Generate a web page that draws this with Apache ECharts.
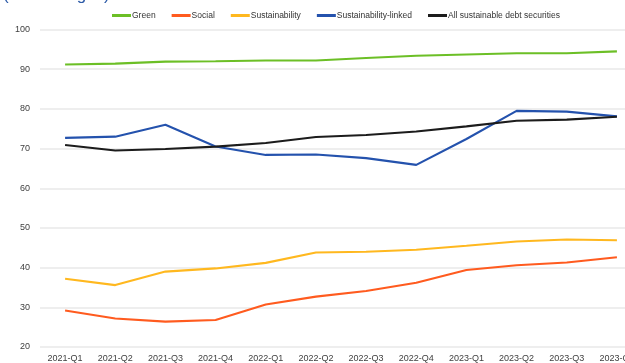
<!DOCTYPE html>
<html>
<head>
<meta charset="utf-8">
<script src="https://cdn.jsdelivr.net/npm/echarts@6/dist/echarts.min.js"></script>
<style>
  html, body { margin: 0; padding: 0; background: #fff; }
  #chart { width: 625px; height: 363px; }
</style>
</head>
<body>
<div id="chart"></div>
<script>
// Quarterly share of sustainable debt securities (percentages)
const quarters = ['2021-Q1','2021-Q2','2021-Q3','2021-Q4','2022-Q1','2022-Q2','2022-Q3','2022-Q4','2023-Q1','2023-Q2','2023-Q3','2023-Q4'];
const green = [91.2, 91.4, 91.9, 92.0, 92.2, 92.2, 92.8, 93.4, 93.7, 94.0, 94.0, 94.5];
const social = [29.2, 27.2, 26.4, 26.8, 30.7, 32.7, 34.1, 36.2, 39.4, 40.6, 41.3, 42.6];
const sustainability = [37.2, 35.6, 39.0, 39.8, 41.2, 43.8, 44.0, 44.5, 45.5, 46.6, 47.1, 46.9];
const sustainabilityLinked = [72.7, 73.0, 76.0, 70.5, 68.4, 68.5, 67.6, 65.9, 72.4, 79.5, 79.3, 78.1];
const allSustainable = [70.9, 69.5, 69.9, 70.5, 71.4, 72.9, 73.4, 74.3, 75.6, 77.0, 77.3, 78.0];
const yTicks = { min: 20, max: 100, interval: 10 };

const colors = {
  green: '#6cbf26',
  social: '#ff5b1f',
  sustainability: '#ffb81f',
  linked: '#2452ad',
  all: '#1c1c1c'
};

function line(name, data, color) {
  return {
    name: name,
    type: 'line',
    data: data,
    symbol: 'none',
    lineStyle: { color: color, width: 2.1 },
    itemStyle: { color: color },
    emphasis: { disabled: true }
  };
}

const chart = echarts.init(document.getElementById('chart'), null, { renderer: 'canvas' });
chart.setOption({
  animation: false,
  backgroundColor: '#ffffff',
  title: {
    text: '(Percentages)',
    left: -2,
    top: -18,
    textStyle: { color: '#2e5ca8', fontSize: 17, fontWeight: 'normal', fontFamily: 'Liberation Sans' }
  },
  legend: {
    top: 6,
    left: 107,
    itemWidth: 19,
    itemHeight: 3,
    itemGap: 16,
    icon: 'rect',
    textStyle: { fontSize: 8.5, color: '#333', fontFamily: 'Liberation Sans', padding: [0, 0, 0, -4] },
    data: ['Green', 'Social', 'Sustainability', 'Sustainability-linked', 'All sustainable debt securities']
  },
  grid: { left: 40, top: 29.5, width: 602, height: 317.5, outerBoundsMode: 'none', containLabel: false },
  xAxis: {
    type: 'category',
    data: quarters,
    boundaryGap: true,
    axisLine: { show: false },
    axisTick: { show: false },
    axisLabel: { color: '#404040', fontSize: 9, fontFamily: 'Liberation Sans', margin: 7, interval: 0 }
  },
  yAxis: {
    type: 'value',
    min: yTicks.min,
    max: yTicks.max,
    interval: yTicks.interval,
    axisLine: { show: false },
    axisTick: { show: false },
    axisLabel: { color: '#404040', fontSize: 9, fontFamily: 'Liberation Sans', margin: 10 },
    splitLine: { lineStyle: { color: '#e8e8e8', width: 1.5 } }
  },
  series: [
    line('Green', green, colors.green),
    line('Social', social, colors.social),
    line('Sustainability', sustainability, colors.sustainability),
    line('Sustainability-linked', sustainabilityLinked, colors.linked),
    line('All sustainable debt securities', allSustainable, colors.all)
  ]
});
</script>
</body>
</html>
